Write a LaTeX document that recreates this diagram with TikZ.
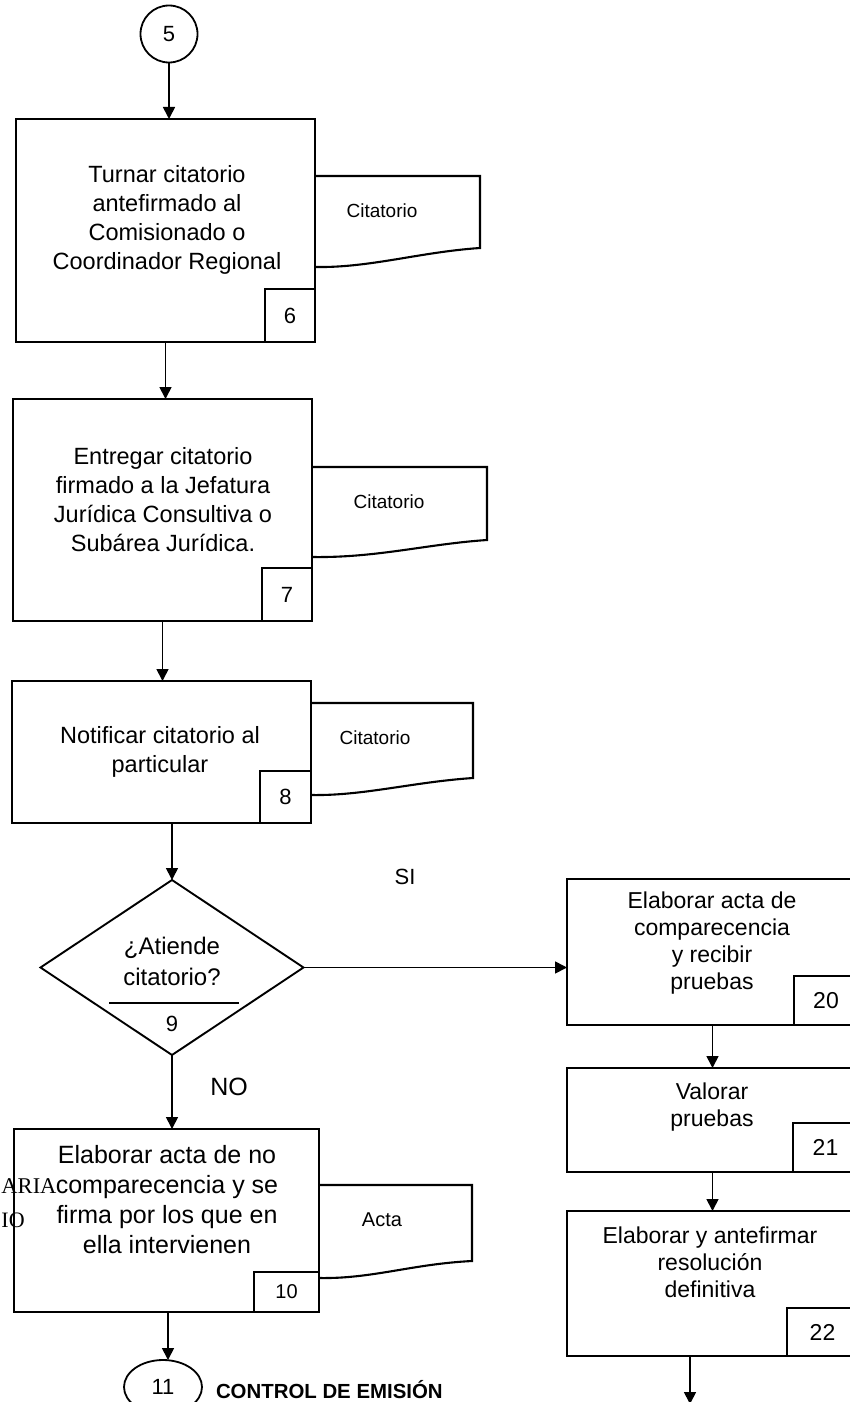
\documentclass[tikz,border=0pt]{standalone}
\usepackage{fontspec}
\setmainfont{Liberation Sans}
\newfontfamily\serifface{Liberation Serif}
\usetikzlibrary{arrows.meta,shapes.geometric}
\newcommand\setfs[2]{\fontsize{#1}{#2}\selectfont}

\begin{document}
\begin{tikzpicture}[x=1pt,y=-1pt,line width=2pt,
  box/.style={draw,rectangle,line width=2.2pt,inner sep=0pt,outer sep=0pt},
  numbox/.style={draw,rectangle,line width=2pt,inner sep=0pt,outer sep=0pt,font=\setfs{22}{24}},
  steptext/.style={align=center,inner sep=0pt,font=\setfs{23.5}{29}},
  sidetext/.style={align=center,inner sep=0pt,font=\setfs{23}{27}},
  doclabel/.style={inner sep=0pt,font=\setfs{19}{22}},
  doc/.style={draw,line width=2.1pt},
  flow/.style={draw,line width=1.7pt,-{Triangle[length=12pt,width=12pt]}},
  connector/.style={draw,line width=1.8pt,inner sep=0pt,outer sep=0pt,font=\setfs{22}{24}}
]
\useasboundingbox (0,0) rectangle (850,1402);
\clip (0,0) rectangle (850,1402);

% ---------- entry connector ----------
\node[connector,circle,minimum size=57pt] (c5) at (169,34) {5};

% ---------- step 6 ----------
\node[box,minimum width=299pt,minimum height=223pt] (b6) at (165.5,230.5) {};
\node[steptext] (t6) at (167,220) {Turnar citatorio\\antefirmado al\\Comisionado o\\Coordinador Regional};
\node[numbox,minimum width=50pt,minimum height=53pt,anchor=south east] (n6) at (b6.south east) {6};
\draw[doc] (315,176) -- (480,176) -- (480,248)
  .. controls (420,252) and (370,268) .. (315,267);
\node[doclabel] (l6) at (382,211) {Citatorio};

% ---------- step 7 ----------
\node[box,minimum width=299pt,minimum height=222pt] (b7) at (162.5,510) {};
\node[steptext] (t7) at (163,500) {Entregar citatorio\\firmado a la Jefatura\\Jurídica Consultiva o\\Subárea Jurídica.};
\node[numbox,minimum width=50pt,minimum height=53pt,anchor=south east] (n7) at (b7.south east) {7};
\draw[doc] (312,467) -- (487,467) -- (487,540)
  .. controls (427,544) and (377,558) .. (312,557);
\node[doclabel] (l7) at (389,502) {Citatorio};

% ---------- step 8 ----------
\node[box,minimum width=299pt,minimum height=142pt] (b8) at (161.5,752) {};
\node[steptext] (t8) at (160,752) {Notificar citatorio al\\particular};
\node[numbox,minimum width=51pt,minimum height=52pt,anchor=south east] (n8) at (b8.south east) {8};
\draw[doc] (311,703) -- (473,703) -- (473,778)
  .. controls (413,782) and (363,796) .. (311,795);
\node[doclabel] (l8) at (375,738) {Citatorio};

% ---------- decision 9 ----------
\node[diamond,draw,line width=1.9pt,minimum width=263pt,minimum height=175pt,inner sep=0pt,outer sep=0pt] (d9) at (172,967.5) {};
\node[steptext,font=\setfs{24}{31}] (t9) at (172,961.5) {¿Atiende\\citatorio?};
\draw[line width=1.4pt] (109,1003) -- (239,1003);
\node[font=\setfs{22}{24},inner sep=0pt] (n9) at (172,1024) {9};
\node[font=\setfs{22}{24},inner sep=0pt] (si) at (405,877) {SI};
\node[font=\setfs{25}{28},inner sep=0pt] (no) at (229,1087) {NO};

% ---------- step 10 ----------
\node[box,minimum width=305pt,minimum height=183pt] (b10) at (166.5,1220.5) {};
\node[font=\serifface\setfs{22.5}{24},inner sep=0pt,anchor=west] (s1) at (0.5,1186) {ARIA};
\node[font=\serifface\setfs{22}{24},inner sep=0pt,anchor=west] (s2) at (0.5,1220) {IO};
\node[steptext,font=\setfs{25}{30}] (t10) at (167,1200) {Elaborar acta de no\\comparecencia y se\\firma por los que en\\ella intervienen};
\node[numbox,minimum width=65pt,minimum height=40pt,anchor=south east,font=\setfs{20}{22}] (n10) at (b10.south east) {10};
\draw[doc] (319,1185) -- (472,1185) -- (472,1261)
  .. controls (412,1264) and (372,1279) .. (319,1278);
\node[doclabel,font=\setfs{20}{22}] (l10) at (382,1220) {Acta};

% ---------- exit connector ----------
\node[connector,ellipse,minimum width=78pt,minimum height=54pt] (c11) at (163,1387) {11};
\node[anchor=west,inner sep=0pt,font=\bfseries\setfs{20.4}{24}] (ctl) at (215,1390) {CONTROL DE EMISIÓN};

% ---------- steps 20 to 22 ----------
\node[box,minimum width=291pt,minimum height=146pt] (b20) at (712.5,952) {};
\node[sidetext] (t20) at (712,943) {Elaborar acta de\\comparecencia\\y recibir\\pruebas};
\node[numbox,minimum width=64pt,minimum height=49pt,anchor=south east,font=\setfs{23}{24}] (n20) at (b20.south east) {20};

\node[box,minimum width=291pt,minimum height=104pt] (b21) at (712.5,1120) {};
\node[sidetext] (t21) at (712,1107) {Valorar\\pruebas};
\node[numbox,minimum width=65pt,minimum height=49pt,anchor=south east,font=\setfs{23}{24}] (n21) at (b21.south east) {21};

\node[box,minimum width=291pt,minimum height=145pt] (b22) at (712.5,1283.5) {};
\node[sidetext] (t22) at (710,1262) {Elaborar y antefirmar\\resolución\\definitiva};
\node[numbox,minimum width=71pt,minimum height=48pt,anchor=south east,font=\setfs{23}{24}] (n22) at (b22.south east) {22};

% ---------- connectors ----------
\draw[flow] (c5.south) -- (c5.south |- b6.north);
\draw[flow] (b6.south) -- (b6.south |- b7.north);
\draw[flow] (b7.south) -- (b7.south |- b8.north);
\draw[flow] (d9.north |- b8.south) -- (d9.north);
\draw[flow] (d9.south) -- (d9.south |- b10.north);
\coordinate (k11) at (168,0);
\draw[flow] (k11 |- b10.south) -- (k11 |- c11.north);
\draw[flow] (d9.east) -- (d9.east -| b20.west);
\draw[flow] (b20.south) -- (b20.south |- b21.north);
\draw[flow] (b21.south) -- (b21.south |- b22.north);
\coordinate (out) at (690,1404);
\draw[flow] (out |- b22.south) -- (out);
\end{tikzpicture}
\end{document}
